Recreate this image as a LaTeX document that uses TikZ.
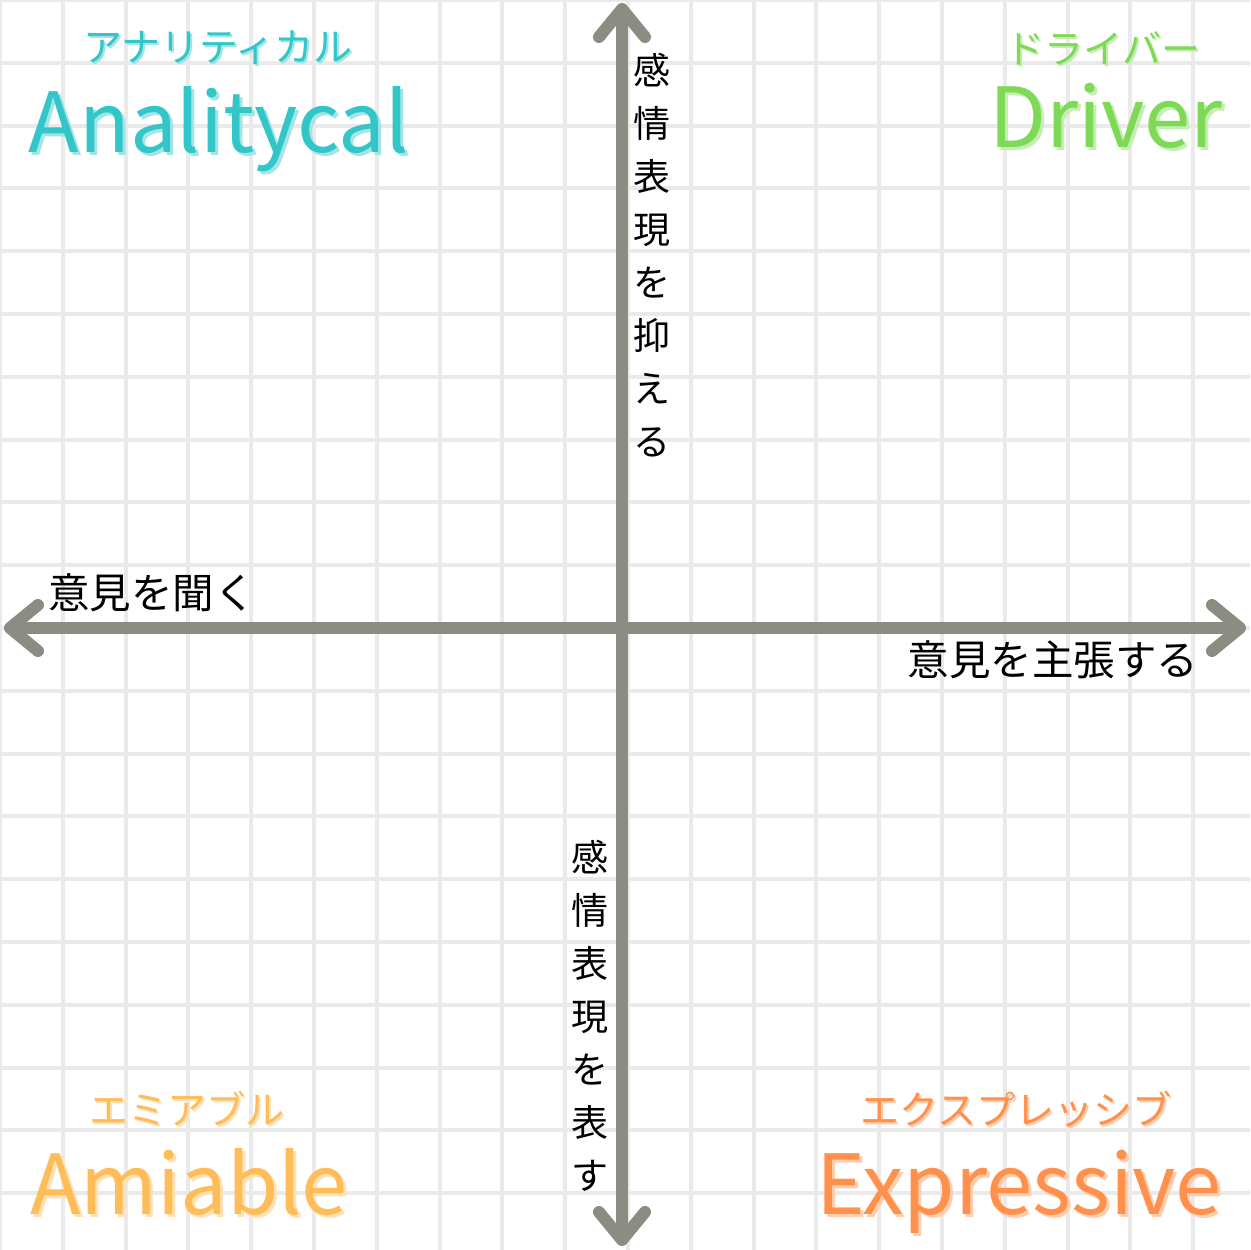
\documentclass[tikz,border=0pt]{standalone}
\usepackage{fontspec}
\setmainfont{Noto Sans CJK JP}
\usepackage{tikz}
\usetikzlibrary{arrows.meta}
\definecolor{gridgray}{HTML}{EAEAEA}
\definecolor{axisgray}{HTML}{8B8D82}
\definecolor{tealtype}{HTML}{33C6C8}
\definecolor{greentype}{HTML}{7ED957}
\definecolor{yellowtype}{HTML}{FFBD59}
\definecolor{orangetype}{HTML}{FF914D}
\tikzset{
  axis/.style={draw=axisgray,line width=12pt,
    {Straight Barb[length=28pt,width=46pt,round]}-{Straight Barb[length=28pt,width=46pt,round]}},
  kana/.style={inner sep=0pt,font=\fontsize{39}{39}\selectfont},
  bigname/.style={inner sep=0pt,anchor=base,font=\fontsize{83}{83}\selectfont},
  pole/.style={inner sep=0pt,font=\fontsize{41.5}{41.5}\selectfont},
  column/.style={inner sep=0pt,align=center,font=\fontsize{37}{53}\selectfont},
}
\begin{document}
\begin{tikzpicture}[x=1pt,y=1pt]
\useasboundingbox (0,0) rectangle (1250,1250);
\path[fill=white] (0,0) rectangle (1250,1250);
% grid:
\foreach \i in {0,...,19} {
  \path[draw=gridgray,line width=4pt] (\i*62.8,0) -- (\i*62.8,1250);
  \path[draw=gridgray,line width=4pt] (0,1250-\i*62.8) -- (1250,1250-\i*62.8);
}
% axes:
\coordinate (west) at (4,622);
\coordinate (east) at (1246,622);
\coordinate (north) at (622,1247);
\coordinate (south) at (622,4);
\draw[axis] (west) -- (east);
\draw[axis] (south) -- (north);
% axis labels:
\node[pole] (listen) at (152,657) {意見を聞く};
\node[pole] (assert) at (1053,590) {意見を主張する};
\node[column] (restrain) at (652,995) {感\\情\\表\\現\\を\\抑\\え\\る};
\node[column] (express) at (590,234) {感\\情\\表\\現\\を\\表\\す};
% analytical:
\node[kana,text=tealtype!45] (ana-kana-s) at (220,1200) {アナリティカル};
\node[kana,text=tealtype] (ana-kana) at (218,1202) {アナリティカル};
\node[bigname,text=tealtype!45] (ana-s) at (222,1094) {Analitycal};
\node[bigname,text=tealtype] (ana) at (219,1097) {Analitycal};
% driver:
\node[kana,text=greentype!45] (drv-kana-s) at (1105,1200) {ドライバー};
\node[kana,text=greentype] (drv-kana) at (1103,1202) {ドライバー};
\node[bigname,text=greentype!45] (drv-s) at (1109,1099) {Driver};
\node[bigname,text=greentype] (drv) at (1106,1102) {Driver};
% amiable:
\node[kana,text=yellowtype!45] (ami-kana-s) at (189,139) {エミアブル};
\node[kana,text=yellowtype] (ami-kana) at (187,141) {エミアブル};
\node[bigname,text=yellowtype!45] (ami-s) at (192,32) {Amiable};
\node[bigname,text=yellowtype] (ami) at (189,35) {Amiable};
% expressive:
\node[kana,text=orangetype!45] (exp-kana-s) at (1018,139) {エクスプレッシブ};
\node[kana,text=orangetype] (exp-kana) at (1016,141) {エクスプレッシブ};
\node[bigname,text=orangetype!45] (exp-s) at (1022,32) {Expressive};
\node[bigname,text=orangetype] (exp) at (1019,35) {Expressive};
\end{tikzpicture}
\end{document}
